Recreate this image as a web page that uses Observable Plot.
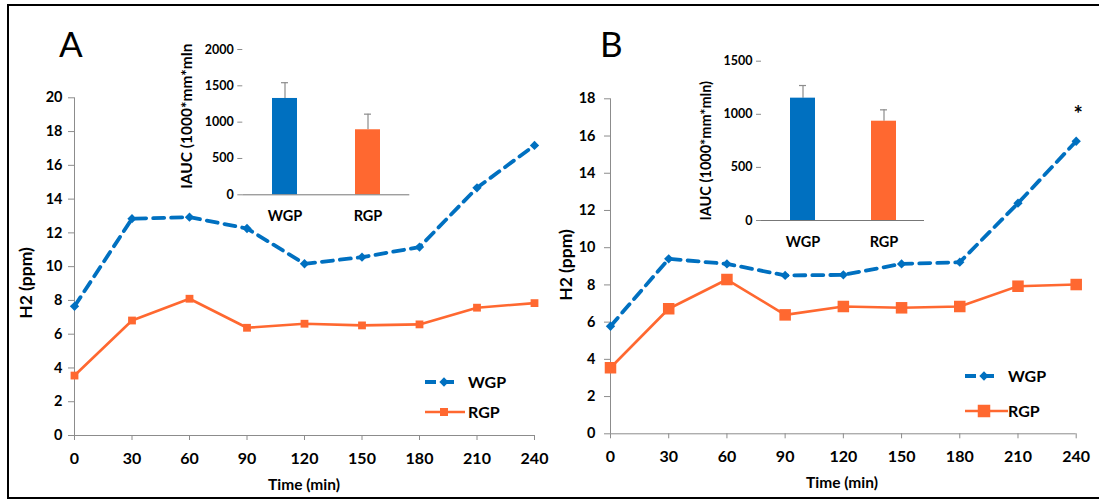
<!DOCTYPE html>
<html>
<head>
<meta charset="utf-8">
<script src="https://cdn.jsdelivr.net/npm/d3@7"></script>
<script src="https://cdn.jsdelivr.net/npm/@observablehq/plot@0.6"></script>
<style>
  body { margin: 0; background: #fff; }
  #fig { position: relative; width: 1099px; height: 499px; overflow: hidden; background: #fff;
         font-family: Lato, "Open Sans", sans-serif; }
  #fig .abs { position: absolute; }
  #frame { position: absolute; left: 7px; top: 4px; width: 1100px; height: 495px;
           border-left: 2px solid #000; border-top: 2px solid #000; border-bottom: 2px solid #000;
           box-sizing: border-box; }
  .panel-letter { position: absolute; font-size: 35px; font-weight: 400; color: #000; line-height: 1; }
</style>
</head>
<body>
<div id="fig">
  <div id="frame"></div>
  <div class="panel-letter" style="left:59px;top:26px;">A</div>
  <div class="panel-letter" style="left:600px;top:26px;">B</div>
</div>
<script>
// Breath hydrogen (ppm) over time after whole-grain (WGP) vs refined-grain (RGP) meals
const times = [0, 30, 60, 90, 120, 150, 180, 210, 240];

const wgpA = [7.65, 12.84, 12.93, 12.26, 10.17, 10.56, 11.16, 14.67, 17.18];
const rgpA = [3.55, 6.81, 8.10, 6.38, 6.62, 6.52, 6.58, 7.57, 7.84];

const wgpB = [5.78, 9.40, 9.13, 8.51, 8.54, 9.13, 9.22, 12.39, 15.72];
const rgpB = [3.55, 6.72, 8.29, 6.39, 6.84, 6.77, 6.84, 7.93, 8.02];

// time points flagged as significant in panel B
const sigB = [240];

// incremental AUC insets
const groups = ["WGP", "RGP"];
const iaucA = [1326, 895];
const iaucErrA = [217, 215];
const iaucB = [1152, 935];
const iaucErrB = [119, 107];

const BLUE = "#0070C0";
const ORANGE = "#FF6830";
const AXIS = "#8c8c8c";
const FONT = "Lato, 'Open Sans', sans-serif";
const plain = d3.format("d");

const fig = document.getElementById("fig");

function place(node, left, top) {
  node.classList.add("abs");
  node.style.left = left + "px";
  node.style.top = top + "px";
  fig.appendChild(node);
}

function longData(wgp, rgp) {
  return times.flatMap((t, i) => [
    {time: t, h2: wgp[i], group: "WGP"},
    {time: t, h2: rgp[i], group: "RGP"}
  ]);
}

function mainChart({wgp, rgp, yMax, yTicks, width, height, margins, squareR, yLabelGap, sig = []}) {
  const data = longData(wgp, rgp);
  const w = data.filter(d => d.group === "WGP");
  const r = data.filter(d => d.group === "RGP");
  const marks = [
    Plot.ruleX([0], {stroke: AXIS}),
    Plot.ruleY([0], {stroke: AXIS}),
    Plot.axisX({ticks: times, tickSize: 5, stroke: AXIS, tickFormat: () => "", label: null}),
    Plot.axisX({ticks: times, tickSize: 0, tickPadding: 17, fill: "#000", fontSize: 16, tickFormat: plain, label: null}),
    Plot.axisY({ticks: yTicks, tickSize: 6, stroke: AXIS, tickFormat: () => "", label: null}),
    Plot.axisY({ticks: yTicks, tickSize: 0, tickPadding: yLabelGap, fill: "#000", fontSize: 14.5, tickFormat: plain, label: null}),
    Plot.line(r, {x: "time", y: "h2", stroke: ORANGE, strokeWidth: 2.6}),
    Plot.dot(r, {x: "time", y: "h2", symbol: "square", r: squareR, fill: ORANGE, stroke: null}),
    Plot.line(w, {x: "time", y: "h2", stroke: BLUE, strokeWidth: 3.8, strokeDasharray: "11,7"}),
    Plot.dot(w, {x: "time", y: "h2", symbol: "diamond2", r: 4.2, fill: BLUE, stroke: null})
  ];
  if (sig.length) {
    marks.push(Plot.text(w.filter(d => sig.includes(d.time)), {
      x: "time", y: "h2", text: () => "*", dy: -26, dx: 2, fontSize: 22, fill: "#000"
    }));
  }
  return Plot.plot({
    width, height,
    marginLeft: margins[0], marginRight: margins[1], marginTop: margins[2], marginBottom: margins[3],
    style: {fontFamily: FONT, fontWeight: "bold", background: "transparent", overflow: "visible"},
    x: {domain: [0, 240], axis: null},
    y: {domain: [0, yMax], axis: null},
    marks
  });
}

function inset({values, errs, yMax, yTicks, width, height, margins, label, labelDy, labelSize}) {
  const data = groups.map((g, i) => ({group: g, v: values[i], top: values[i] + errs[i]}));
  return Plot.plot({
    width, height,
    marginLeft: margins[0], marginRight: margins[1], marginTop: margins[2], marginBottom: margins[3],
    style: {fontFamily: FONT, fontWeight: "bold", background: "transparent", overflow: "visible"},
    x: {domain: groups, paddingInner: 0.695, paddingOuter: 0.3475, axis: null},
    y: {domain: [0, yMax], axis: null},
    color: {domain: groups, range: [BLUE, ORANGE]},
    marks: [
      Plot.ruleX(data, {x: "group", y1: "v", y2: "top", stroke: AXIS, strokeWidth: 1.2}),
      Plot.tickY(data, {x: "group", y: "top", stroke: AXIS, strokeWidth: 1.2, insetLeft: 9, insetRight: 9}),
      Plot.barY(data, {x: "group", y: "v", fill: "group"}),
      Plot.ruleY([0], {stroke: "#777"}),
      Plot.axisY({ticks: yTicks, tickSize: 5, stroke: AXIS, tickFormat: () => "", label: null}),
      Plot.axisY({ticks: yTicks, tickSize: 0, tickPadding: 9, fill: "#000", fontSize: 12.5,
                  tickFormat: plain, label: null}),
      Plot.axisX({tickSize: 0, tickPadding: 16, fill: "#000", fontSize: 14.5, label: null}),
      Plot.text([label], {frameAnchor: "bottom-left", textAnchor: "start", rotate: -90,
                          dx: -51, dy: labelDy, fontSize: labelSize, fill: "#000"})
    ]
  });
}

// Panel A
place(mainChart({
  wgp: wgpA, rgp: rgpA, yMax: 20, yTicks: d3.range(0, 21, 2),
  width: 560, height: 499, margins: [74, 26, 97.3, 64], squareR: 4.4, yLabelGap: 12
}), 0, 0);

// Panel B
place(mainChart({
  wgp: wgpB, rgp: rgpB, yMax: 18, yTicks: d3.range(0, 19, 2),
  width: 549, height: 499, margins: [60, 23.3, 98.3, 65.7], squareR: 6.5, yLabelGap: 15, sig: sigB
}), 550, 0);

// Insets
place(inset({
  values: iaucA, errs: iaucErrA, yMax: 2000, yTicks: d3.range(0, 2001, 500),
  width: 240, height: 220, margins: [62.3, 10.7, 29, 45.7],
  label: "IAUC (1000*mm*mln", labelDy: -6, labelSize: 15.5
}), 180, 20);

place(inset({
  values: iaucB, errs: iaucErrB, yMax: 1500, yTicks: d3.range(0, 1501, 500),
  width: 250, height: 240, margins: [71, 16, 30.7, 50],
  label: "IAUC (1000*mm*mln)", labelDy: 0, labelSize: 14.5
}), 690, 30);

// Axis titles
function title(text, x, y, rotate, size) {
  const d = document.createElement("div");
  d.textContent = text;
  d.style.cssText = `position:absolute;left:${x}px;top:${y}px;font-size:${size}px;font-weight:bold;
    white-space:nowrap;transform:translate(-50%,-50%) rotate(${rotate}deg);line-height:1;color:#000;`;
  fig.appendChild(d);
}
title("Time (min)", 304, 485, 0, 15.5);
title("Time (min)", 842, 483, 0, 15.5);
title("H2 (ppm)", 25.5, 283, -90, 17.5);
title("H2 (ppm)", 566, 265, -90, 17.5);

// Legends
function legend(x, top, gap, squareSize, lineEnd) {
  const svg = d3.create("svg").attr("width", 110).attr("height", 60)
    .style("overflow", "visible").style("font-family", FONT).style("font-weight", "bold");
  const g = svg.append("g");
  g.append("line").attr("x1", 0).attr("x2", 32).attr("y1", 10).attr("y2", 10)
    .attr("stroke", BLUE).attr("stroke-width", 3.8).attr("stroke-dasharray", "11,7");
  g.append("path").attr("d", d3.symbol(d3.symbolDiamond2, Math.PI * 4.2 * 4.2)())
    .attr("transform", "translate(19,10)").attr("fill", BLUE);
  g.append("text").attr("x", 43).attr("y", 10).attr("dy", "0.35em")
    .attr("font-size", 16).text("WGP");
  const y2 = 10 + gap;
  g.append("line").attr("x1", 0).attr("x2", lineEnd).attr("y1", y2).attr("y2", y2)
    .attr("stroke", ORANGE).attr("stroke-width", 2.6);
  g.append("rect").attr("x", 19 - squareSize / 2).attr("y", y2 - squareSize / 2)
    .attr("width", squareSize).attr("height", squareSize).attr("fill", ORANGE);
  g.append("text").attr("x", 43).attr("y", y2).attr("dy", "0.35em")
    .attr("font-size", 16).text("RGP");
  place(svg.node(), x, top);
}
legend(425, 371.7, 30, 8, 40);
legend(965, 366, 35, 12.5, 43);
</script>
</body>
</html>
